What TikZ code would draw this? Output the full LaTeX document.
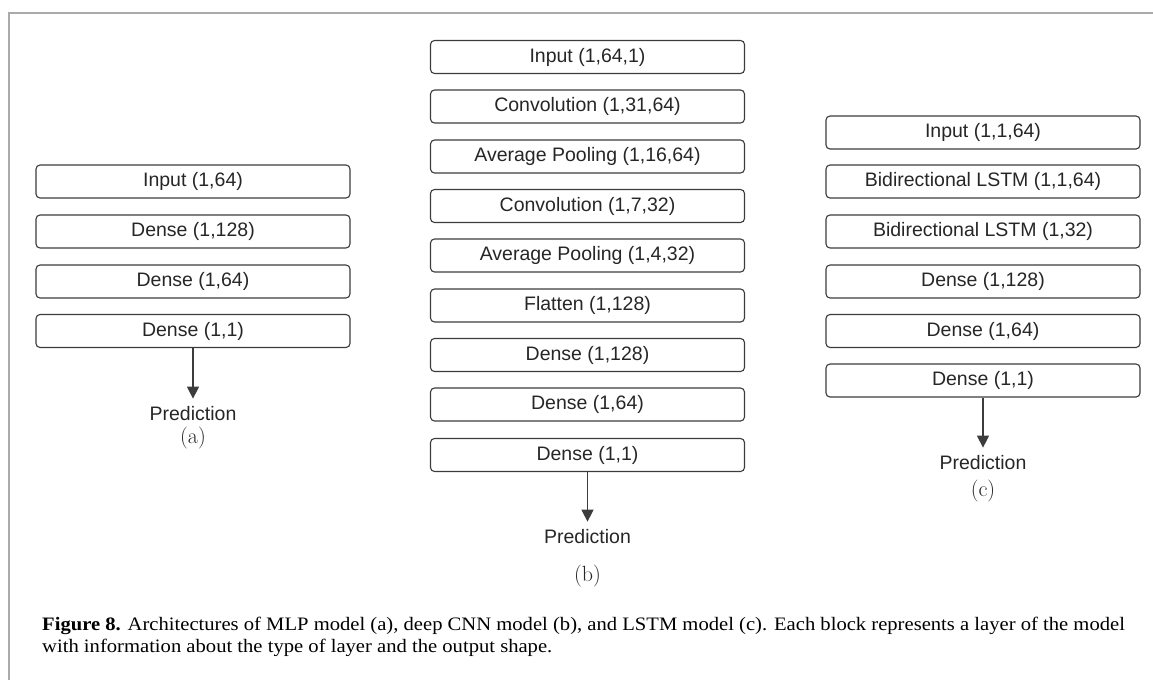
\documentclass[tikz,border=0pt]{standalone}
\usepackage{fontspec}
\usepackage{tikz}
\usetikzlibrary{arrows.meta}
\newfontfamily\layerfont{Liberation Sans}
\newfontfamily\capfont[FakeStretch=1.085]{Liberation Serif}
\definecolor{boxline}{RGB}{60,60,60}
\definecolor{frameline}{RGB}{170,170,170}

\tikzset{
	layer/.style={draw=boxline, line width=1.1pt, rounded corners=4pt,
		minimum width=314pt, minimum height=33pt, inner sep=0pt,
		font=\layerfont\fontsize{19.5}{22}\selectfont, text=black!85},
	pred/.style={inner sep=2pt, font=\layerfont\fontsize{19.5}{22}\selectfont, text=black!85},
	sublbl/.style={inner sep=0pt, font=\fontsize{22}{24}\selectfont, text=black!85},
	capt/.style={inner sep=0pt, font=\capfont\fontsize{19}{22}\selectfont}
}

\begin{document}
\begin{tikzpicture}[x=1pt, y=-1pt]
	\useasboundingbox (0,0) rectangle (1153,680);
	\draw[frameline, line width=1.3pt] (9,680) -- (9,13) -- (1153,13);
	
	% (a) MLP
	\foreach \n/\y/\t in
	{a1/181.5/{Input (1,64)}, a2/231.5/{Dense (1,128)}, a3/281.5/{Dense (1,64)}, a4/331/{Dense (1,1)}}{
		\node[layer] (\n) at (193,\y) {\t};
	}
	
	% (b) deep CNN
	\foreach \n/\y/\t in
	{b1/57/{Input (1,64,1)}, b2/106.5/{Convolution (1,31,64)}, b3/156.5/{Average Pooling (1,16,64)},
		b4/206/{Convolution (1,7,32)}, b5/255.5/{Average Pooling (1,4,32)}, b6/305.5/{Flatten (1,128)},
		b7/355/{Dense (1,128)}, b8/404.5/{Dense (1,64)}, b9/455/{Dense (1,1)}}{
		\node[layer] (\n) at (587.5,\y) {\t};
	}
	
	% (c) LSTM
	\foreach \n/\y/\t in
	{c1/132.5/{Input (1,1,64)}, c2/181.5/{Bidirectional LSTM (1,1,64)}, c3/231.5/{Bidirectional LSTM (1,32)},
		c4/281.5/{Dense (1,128)}, c5/331/{Dense (1,64)}, c6/380.5/{Dense (1,1)}}{
		\node[layer] (\n) at (983,\y) {\t};
	}
	
	% outputs and sub-labels
	\foreach \c/\l/\x/\yp/\ys in
	{a/a4/193/414/438, b/b9/587.5/537/576, c/c6/983/463/491}{
		\node[pred] (\c pred) at (\x,\yp) {Prediction};
		\node[sublbl] (\c lbl) at (\x,\ys) {(\c)};
		\draw[boxline, line width=1.2pt, -{Triangle[width=12pt,length=12pt]}, shorten >=6pt] (\l.south) -- (\c pred.north);
	}
	
	% caption
	\node[capt, anchor=base west] (cap1) at (42,630)
	{\textbf{Figure 8.} Architectures of MLP model (a), deep CNN model (b), and LSTM model (c). Each block represents a layer of the model};
	\node[capt, anchor=base west] (cap2) at (42,652)
	{with information about the type of layer and the output shape.};
\end{tikzpicture}
\end{document}
